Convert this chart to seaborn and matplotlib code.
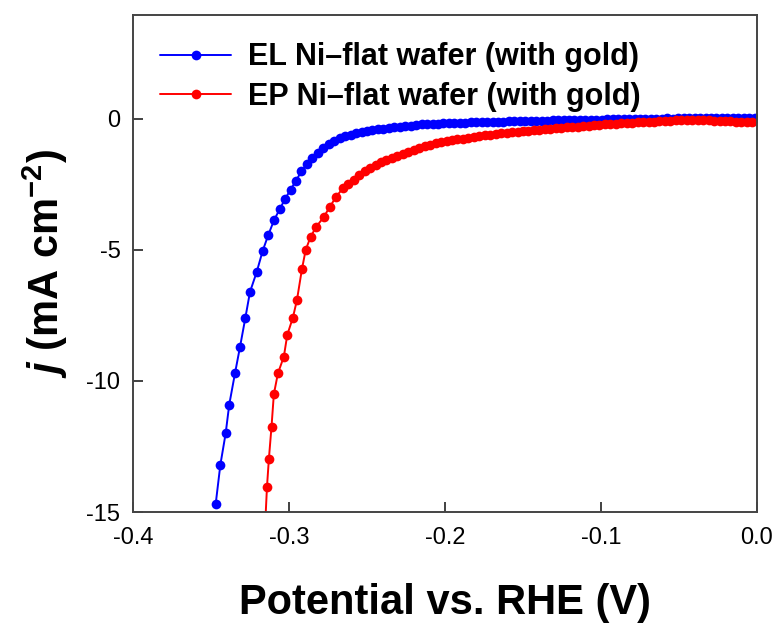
import matplotlib
matplotlib.use("Agg")
import matplotlib.pyplot as plt
import seaborn as sns
import pandas as pd

# ---- data ----
el_potential = [-0.347, -0.344, -0.3406, -0.3383, -0.3346, -0.3314, -0.328, -0.325, -0.3207, -0.3169,
                -0.3133, -0.3095, -0.306, -0.3025, -0.299, -0.2955, -0.292, -0.2885, -0.285, -0.2815,
                -0.278, -0.2745, -0.271, -0.2675, -0.264, -0.2605, -0.257, -0.2535, -0.25, -0.2465,
                -0.243, -0.2395, -0.236, -0.2325, -0.229, -0.2255, -0.222, -0.2185, -0.215, -0.2115,
                -0.208, -0.2045, -0.201, -0.1975, -0.194, -0.1905, -0.187, -0.1835, -0.18, -0.1765,
                -0.173, -0.1695, -0.166, -0.1625, -0.159, -0.1555, -0.152, -0.1485, -0.145, -0.1415,
                -0.138, -0.1345, -0.131, -0.1275, -0.124, -0.1205, -0.117, -0.1135, -0.11, -0.1065,
                -0.103, -0.0995, -0.096, -0.0925, -0.089, -0.0855, -0.082, -0.0785, -0.075, -0.0715,
                -0.068, -0.0645, -0.061, -0.0575, -0.054, -0.0505, -0.047, -0.0435, -0.04, -0.0365,
                -0.033, -0.0295, -0.026, -0.0225, -0.019, -0.0155, -0.012, -0.0085, -0.005, -0.0015]
el_current = [-14.7, -13.2, -12.0, -10.9, -9.7, -8.7, -7.6, -6.6, -5.84, -5.04,
              -4.43, -3.85, -3.45, -3.05, -2.70, -2.35, -2.00, -1.72, -1.48, -1.28,
              -1.10, -0.95, -0.83, -0.74, -0.66, -0.60, -0.55, -0.50, -0.46, -0.42,
              -0.40, -0.37, -0.34, -0.31, -0.29, -0.27, -0.25, -0.23, -0.21, -0.20,
              -0.19, -0.18, -0.17, -0.16, -0.15, -0.15, -0.14, -0.13, -0.13, -0.12,
              -0.12, -0.11, -0.10, -0.10, -0.09, -0.09, -0.08, -0.08, -0.07, -0.07,
              -0.06, -0.06, -0.05, -0.05, -0.04, -0.04, -0.04, -0.03, -0.03, -0.02,
              -0.02, -0.02, -0.01, -0.01, -0.01, 0.00, 0.00, 0.00, 0.01, 0.01,
              0.00, 0.01, 0.01, 0.02, 0.01, 0.02, 0.02, 0.02, 0.03, 0.02,
              0.03, 0.03, 0.02, 0.03, 0.03, 0.03, 0.02, 0.03, 0.03, 0.02]

ep_potential = [-0.3152, -0.3141, -0.3129, -0.3112, -0.3097, -0.3071, -0.3033, -0.3011, -0.2975, -0.2949,
                -0.2917, -0.2893, -0.2861, -0.2825, -0.2778, -0.274, -0.2697, -0.2655, -0.262, -0.2585,
                -0.255, -0.2515, -0.248, -0.2445, -0.241, -0.2375, -0.234, -0.2305, -0.227, -0.2235,
                -0.22, -0.2165, -0.213, -0.2095, -0.206, -0.2025, -0.199, -0.1955, -0.192, -0.1885,
                -0.185, -0.1815, -0.178, -0.1745, -0.171, -0.1675, -0.164, -0.1605, -0.157, -0.1535,
                -0.15, -0.1465, -0.143, -0.1395, -0.136, -0.1325, -0.129, -0.1255, -0.122, -0.1185,
                -0.115, -0.1115, -0.108, -0.1045, -0.101, -0.0975, -0.094, -0.0905, -0.087, -0.0835,
                -0.08, -0.0765, -0.073, -0.0695, -0.066, -0.0625, -0.059, -0.0555, -0.052, -0.0485,
                -0.045, -0.0415, -0.038, -0.0345, -0.031, -0.0275, -0.024, -0.0205, -0.017, -0.0135,
                -0.01, -0.0065, -0.003]
ep_current = [-15.4, -14.03, -12.98, -11.74, -10.5, -9.71, -9.07, -8.24, -7.58, -6.91,
              -5.73, -5.00, -4.49, -4.11, -3.75, -3.37, -2.96, -2.65, -2.47, -2.31,
              -2.15, -2.00, -1.87, -1.76, -1.66, -1.57, -1.48, -1.40, -1.32, -1.25,
              -1.18, -1.11, -1.04, -0.98, -0.93, -0.89, -0.85, -0.81, -0.78, -0.75,
              -0.72, -0.69, -0.66, -0.63, -0.60, -0.58, -0.55, -0.53, -0.51, -0.49,
              -0.47, -0.45, -0.43, -0.41, -0.39, -0.37, -0.35, -0.34, -0.32, -0.30,
              -0.29, -0.27, -0.26, -0.24, -0.23, -0.21, -0.20, -0.19, -0.17, -0.16,
              -0.15, -0.13, -0.12, -0.11, -0.10, -0.08, -0.07, -0.06, -0.05, -0.04,
              -0.03, -0.02, -0.03, -0.04, -0.05, -0.06, -0.07, -0.08, -0.09, -0.10,
              -0.11, -0.12, -0.13]

labels = ["EL Ni\u2013flat wafer (with gold)", "EP Ni\u2013flat wafer (with gold)"]
colors = ["#0000ff", "#ff0000"]
x_ticks = [-0.4, -0.3, -0.2, -0.1, 0.0]
y_ticks = [0, -5, -10, -15]

# ---- style ----
sns.set_style("ticks")
plt.rcParams["font.family"] = ["Liberation Sans", "DejaVu Sans"]
plt.rcParams["text.color"] = "black"
plt.rcParams["axes.labelcolor"] = "black"
plt.rcParams["mathtext.fontset"] = "custom"
plt.rcParams["mathtext.rm"] = "Liberation Sans:bold"
plt.rcParams["mathtext.it"] = "Liberation Sans:bold:italic"
plt.rcParams["mathtext.bf"] = "Liberation Sans:bold"

fig = plt.figure(figsize=(7.8, 6.26), dpi=100)
ax = fig.add_axes([0.1705, 0.1821, 0.8, 0.794])

el_df = pd.DataFrame({"potential": el_potential, "current": el_current})
ep_df = pd.DataFrame({"potential": ep_potential, "current": ep_current})

for df, lab, col in [(el_df, labels[0], colors[0]), (ep_df, labels[1], colors[1])]:
    sns.lineplot(data=df, x="potential", y="current", ax=ax, color=col, label=lab,
                 marker="o", markersize=7, markeredgewidth=0, linewidth=1.4,
                 sort=False, estimator=None)

ax.set_xlim(-0.4, 0.0)
ax.set_ylim(-15, 3.97)
ax.set_xticks(x_ticks)
ax.set_xticklabels(["-0.4", "-0.3", "-0.2", "-0.1", "0.0"])
ax.set_yticks(y_ticks)
ax.set_yticklabels(["0", "-5", "-10", "-15"])
ax.tick_params(axis="both", direction="in", length=7, width=1.3, color="#333333",
               labelsize=17, labelcolor="black")
ax.tick_params(axis="x", pad=11)
ax.tick_params(axis="y", pad=9)
for s in ax.spines.values():
    s.set_visible(True)
    s.set_color("#444444")
    s.set_linewidth(1.4)

ax.set_xlabel("Potential vs. RHE (V)", fontsize=30, fontweight="bold", labelpad=24)
ax.set_ylabel(r"$j$ (mA cm$^{-2}$)", fontsize=30, fontweight="bold", labelpad=12)

leg = ax.legend(loc="upper left", bbox_to_anchor=(0.0, 1.0), frameon=False,
                prop={"family": "Liberation Sans", "weight": "bold", "size": 22},
                handlelength=2.3, handletextpad=0.55, labelspacing=0.3,
                borderaxespad=0.5, numpoints=1)
for t in leg.get_texts():
    t.set_color("black")

fig.savefig("out.png", dpi=100)
